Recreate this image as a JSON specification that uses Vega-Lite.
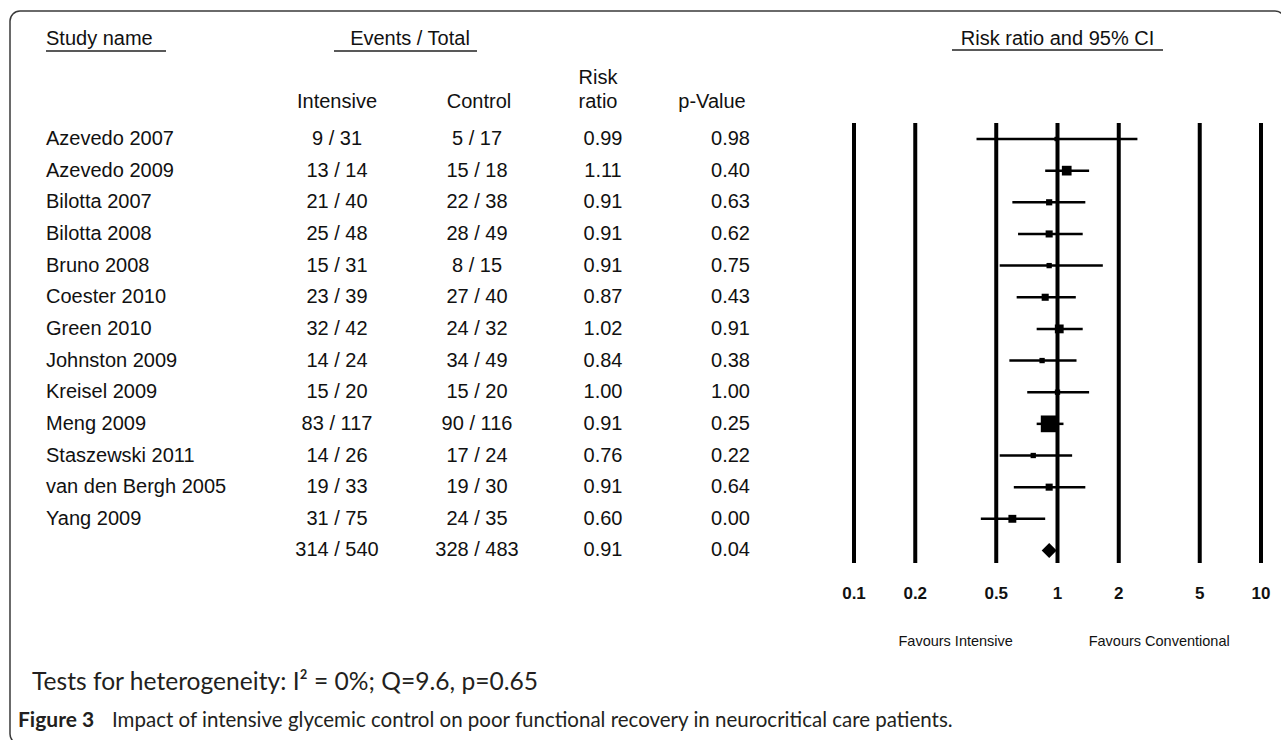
{
  "$schema": "https://vega.github.io/schema/vega-lite/v6.json",
  "width": 1281,
  "height": 740,
  "autosize": {"type": "fit", "contains": "padding"},
  "padding": {"left": 10, "top": 11, "right": -4, "bottom": -4},
  "background": "white",
  "config": {
    "view": {"stroke": "#3a3a3a", "strokeWidth": 1.5, "cornerRadius": 10},
    "axis": {"disable": true},
    "text": {"font": "Liberation Sans", "fontSize": 20, "color": "#111111", "baseline": "middle"}
  },
  "datasets": {
    "studies": [
      {"order": 1, "type": "study", "study": "Azevedo 2007", "intensive": "9 / 31", "control": "5 / 17", "rr": 0.99, "lo": 0.40, "hi": 2.47, "p": 0.98, "weight": 2.3},
      {"order": 2, "type": "study", "study": "Azevedo 2009", "intensive": "13 / 14", "control": "15 / 18", "rr": 1.11, "lo": 0.87, "hi": 1.43, "p": 0.40, "weight": 11.3},
      {"order": 3, "type": "study", "study": "Bilotta 2007", "intensive": "21 / 40", "control": "22 / 38", "rr": 0.91, "lo": 0.60, "hi": 1.37, "p": 0.63, "weight": 4.6},
      {"order": 4, "type": "study", "study": "Bilotta 2008", "intensive": "25 / 48", "control": "28 / 49", "rr": 0.91, "lo": 0.64, "hi": 1.33, "p": 0.62, "weight": 6.0},
      {"order": 5, "type": "study", "study": "Bruno 2008", "intensive": "15 / 31", "control": "8 / 15", "rr": 0.91, "lo": 0.52, "hi": 1.67, "p": 0.75, "weight": 3.4},
      {"order": 6, "type": "study", "study": "Coester 2010", "intensive": "23 / 39", "control": "27 / 40", "rr": 0.87, "lo": 0.63, "hi": 1.23, "p": 0.43, "weight": 6.0},
      {"order": 7, "type": "study", "study": "Green 2010", "intensive": "32 / 42", "control": "24 / 32", "rr": 1.02, "lo": 0.79, "hi": 1.33, "p": 0.91, "weight": 9.3},
      {"order": 8, "type": "study", "study": "Johnston 2009", "intensive": "14 / 24", "control": "34 / 49", "rr": 0.84, "lo": 0.58, "hi": 1.24, "p": 0.38, "weight": 3.4},
      {"order": 9, "type": "study", "study": "Kreisel 2009", "intensive": "15 / 20", "control": "15 / 20", "rr": 1.00, "lo": 0.71, "hi": 1.43, "p": 1.00, "weight": 3.4},
      {"order": 10, "type": "study", "study": "Meng 2009", "intensive": "83 / 117", "control": "90 / 116", "rr": 0.91, "lo": 0.79, "hi": 1.07, "p": 0.25, "weight": 33.6},
      {"order": 11, "type": "study", "study": "Staszewski 2011", "intensive": "14 / 26", "control": "17 / 24", "rr": 0.76, "lo": 0.52, "hi": 1.18, "p": 0.22, "weight": 3.4},
      {"order": 12, "type": "study", "study": "van den Bergh 2005", "intensive": "19 / 33", "control": "19 / 30", "rr": 0.91, "lo": 0.61, "hi": 1.37, "p": 0.64, "weight": 6.0},
      {"order": 13, "type": "study", "study": "Yang 2009", "intensive": "31 / 75", "control": "24 / 35", "rr": 0.60, "lo": 0.42, "hi": 0.87, "p": 0.00, "weight": 7.5},
      {"order": 14, "type": "summary", "study": "", "intensive": "314 / 540", "control": "328 / 483", "rr": 0.91, "lo": 0.83, "hi": 1.00, "p": 0.04, "weight": 100}
    ],
    "ticks": [{"v": 0.1}, {"v": 0.2}, {"v": 0.5}, {"v": 1}, {"v": 2}, {"v": 5}, {"v": 10}],
    "one": [{}]
  },
  "layer": [
    {
      "layer": [
        {"data": {"name": "one"},
         "mark": {"type": "text", "text": "Study name", "align": "left"},
         "encoding": {"x": {"datum": 46, "type": "quantitative", "scale": {"domain": [10, 1285], "nice": false, "zero": false}},
                      "y": {"datum": -2.16, "type": "quantitative", "scale": {"domain": [-3.044, 20.115], "reverse": true, "nice": false, "zero": false}}}},
        {"data": {"name": "one"},
         "mark": {"type": "rule", "strokeWidth": 1.5, "color": "#222222"},
         "encoding": {"x": {"datum": 46, "type": "quantitative"}, "x2": {"datum": 166}, "y": {"datum": -1.78, "type": "quantitative"}}},
        {"data": {"name": "one"},
         "mark": {"type": "text", "text": "Events / Total", "align": "center"},
         "encoding": {"x": {"datum": 410, "type": "quantitative"}, "y": {"datum": -2.16, "type": "quantitative"}}},
        {"data": {"name": "one"},
         "mark": {"type": "rule", "strokeWidth": 1.5, "color": "#222222"},
         "encoding": {"x": {"datum": 334, "type": "quantitative"}, "x2": {"datum": 477}, "y": {"datum": -1.78, "type": "quantitative"}}},
        {"data": {"name": "one"},
         "mark": {"type": "text", "text": "Risk", "align": "center"},
         "encoding": {"x": {"datum": 598, "type": "quantitative"}, "y": {"datum": -0.927, "type": "quantitative"}}},
        {"data": {"name": "one"},
         "mark": {"type": "text", "text": "ratio", "align": "center"},
         "encoding": {"x": {"datum": 598, "type": "quantitative"}, "y": {"datum": -0.169, "type": "quantitative"}}},
        {"data": {"name": "one"},
         "mark": {"type": "text", "text": "Intensive", "align": "center"},
         "encoding": {"x": {"datum": 337, "type": "quantitative"}, "y": {"datum": -0.169, "type": "quantitative"}}},
        {"data": {"name": "one"},
         "mark": {"type": "text", "text": "Control", "align": "center"},
         "encoding": {"x": {"datum": 479, "type": "quantitative"}, "y": {"datum": -0.169, "type": "quantitative"}}},
        {"data": {"name": "one"},
         "mark": {"type": "text", "text": "p-Value", "align": "center"},
         "encoding": {"x": {"datum": 712, "type": "quantitative"}, "y": {"datum": -0.169, "type": "quantitative"}}},
        {"data": {"name": "studies"},
         "mark": {"type": "text", "align": "left"},
         "encoding": {"x": {"datum": 46, "type": "quantitative"}, "y": {"field": "order", "type": "quantitative"}, "text": {"field": "study"}}},
        {"data": {"name": "studies"},
         "mark": {"type": "text", "align": "center"},
         "encoding": {"x": {"datum": 337, "type": "quantitative"}, "y": {"field": "order", "type": "quantitative"}, "text": {"field": "intensive"}}},
        {"data": {"name": "studies"},
         "mark": {"type": "text", "align": "center"},
         "encoding": {"x": {"datum": 477, "type": "quantitative"}, "y": {"field": "order", "type": "quantitative"}, "text": {"field": "control"}}},
        {"data": {"name": "studies"},
         "mark": {"type": "text", "align": "center"},
         "encoding": {"x": {"datum": 603, "type": "quantitative"}, "y": {"field": "order", "type": "quantitative"}, "text": {"field": "rr", "type": "quantitative", "format": ".2f"}}},
        {"data": {"name": "studies"},
         "mark": {"type": "text", "align": "right"},
         "encoding": {"x": {"datum": 750, "type": "quantitative"}, "y": {"field": "order", "type": "quantitative"}, "text": {"field": "p", "type": "quantitative", "format": ".2f"}}},
        {"data": {"name": "one"},
         "mark": {"type": "text", "text": "Tests for heterogeneity: I² = 0%; Q=9.6, p=0.65", "align": "left", "font": "Lato", "fontSize": 24.6, "color": "#231f20"},
         "encoding": {"x": {"datum": 32, "type": "quantitative"}, "y": {"datum": 18.19, "type": "quantitative"}}},
        {"data": {"name": "one"},
         "mark": {"type": "text", "text": "Figure 3", "align": "left", "font": "Lato", "fontSize": 21, "fontWeight": "bold", "color": "#231f20"},
         "encoding": {"x": {"datum": 18, "type": "quantitative"}, "y": {"datum": 19.4, "type": "quantitative"}}},
        {"data": {"name": "one"},
         "mark": {"type": "text", "text": "Impact of intensive glycemic control on poor functional recovery in neurocritical care patients.", "align": "left", "font": "Lato", "fontSize": 20.5, "color": "#231f20"},
         "encoding": {"x": {"datum": 112, "type": "quantitative"}, "y": {"datum": 19.4, "type": "quantitative"}}}
      ]
    },
    {
      "layer": [
        {"data": {"name": "ticks"},
         "mark": {"type": "rule", "strokeWidth": 4, "color": "#000000"},
         "encoding": {"x": {"field": "v", "type": "quantitative", "scale": {"type": "log", "domain": [0.1, 10], "range": [844, 1251], "nice": false}},
                      "y": {"datum": 0.494, "type": "quantitative"}, "y2": {"datum": 14.4}}},
        {"data": {"name": "ticks"},
         "mark": {"type": "text", "fontWeight": "bold", "fontSize": 17, "align": "center"},
         "encoding": {"x": {"field": "v", "type": "quantitative"}, "y": {"datum": 15.376, "type": "quantitative"}, "text": {"field": "v", "type": "quantitative", "format": "~g"}}},
        {"data": {"name": "studies"},
         "transform": [{"filter": "datum.type == 'study'"}],
         "mark": {"type": "rule", "strokeWidth": 2.5, "color": "#000000"},
         "encoding": {"x": {"field": "lo", "type": "quantitative"}, "x2": {"field": "hi"}, "y": {"field": "order", "type": "quantitative"}}},
        {"data": {"name": "studies"},
         "transform": [{"filter": "datum.type == 'study'"}],
         "mark": {"type": "point", "shape": "square", "filled": true, "color": "#000000", "opacity": 1},
         "encoding": {"x": {"field": "rr", "type": "quantitative"}, "y": {"field": "order", "type": "quantitative"},
                      "size": {"field": "weight", "type": "quantitative", "scale": {"domain": [0, 33.6], "range": [0, 280]}, "legend": null}}},
        {"data": {"name": "studies"},
         "transform": [{"filter": "datum.type == 'summary'"}],
         "mark": {"type": "point", "shape": "diamond", "filled": true, "color": "#000000", "opacity": 1, "size": 225},
         "encoding": {"x": {"field": "rr", "type": "quantitative"}, "y": {"field": "order", "type": "quantitative"}}},
        {"data": {"name": "one"},
         "mark": {"type": "text", "text": "Risk ratio and 95% CI", "align": "center", "fontSize": 20},
         "encoding": {"x": {"datum": 1, "type": "quantitative"}, "y": {"datum": -2.16, "type": "quantitative"}}},
        {"data": {"name": "one"},
         "mark": {"type": "rule", "strokeWidth": 1.5, "color": "#222222"},
         "encoding": {"x": {"datum": 0.303, "type": "quantitative"}, "x2": {"datum": 3.3}, "y": {"datum": -1.81, "type": "quantitative"}}},
        {"data": {"name": "one"},
         "mark": {"type": "text", "text": "Favours Intensive", "align": "center", "fontSize": 14.5},
         "encoding": {"x": {"datum": 0.316, "type": "quantitative"}, "y": {"datum": 16.89, "type": "quantitative"}}},
        {"data": {"name": "one"},
         "mark": {"type": "text", "text": "Favours Conventional", "align": "center", "fontSize": 14.5},
         "encoding": {"x": {"datum": 3.16, "type": "quantitative"}, "y": {"datum": 16.89, "type": "quantitative"}}}
      ]
    }
  ],
  "resolve": {"scale": {"x": "independent"}}
}
